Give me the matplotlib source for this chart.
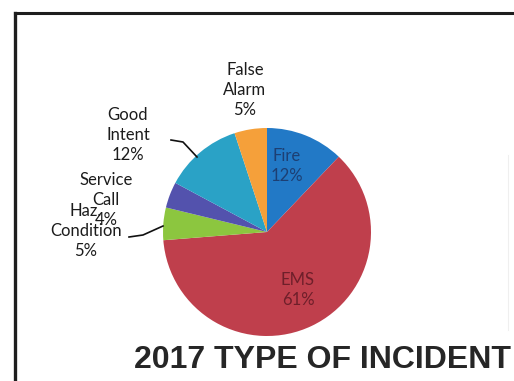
import matplotlib
matplotlib.use("Agg")
import matplotlib.pyplot as plt
from matplotlib.lines import Line2D

# Incident categories for 2017 (percent of all incidents)
categories = ["Fire", "EMS", "Haz.\nCondition", "Service\nCall", "Good\nIntent", "False\nAlarm"]
percents = [12, 61, 5, 4, 12, 5]
colors = ["#2279c6", "#bf3f4c", "#8cc63f", "#5352ad", "#2aa2c6", "#f5a03a"]

W, H = 514, 381
fig = plt.figure(figsize=(W / 100, H / 100), dpi=100)
ax = fig.add_axes([0, 0, 1, 1])

cx, cy, r = 267, H - 232, 104
wedges, _ = ax.pie(percents, colors=colors, startangle=90, counterclock=False,
                   center=(cx, cy), radius=r,
                   wedgeprops=dict(linewidth=0))

ax.set_xlim(0, W)
ax.set_ylim(0, H)
ax.set_aspect("equal")
ax.axis("off")

font = "Lato"
fs = 12
ls = 1.3
labels = [f"{c}\n{p}%" for c, p in zip(categories, percents)]

# inside labels
ax.text(cx + 20, H - 166, labels[0], ha="center", va="center", fontsize=fs,
        family=font, color="#1d3f73", linespacing=ls)
ax.text(cx + 31, H - 290, labels[1], ha="center", va="center", fontsize=fs,
        family=font, color="#6e1f2a", linespacing=ls)

# outside labels
txt = "#1c1c1c"
ax.text(245, H - 90, labels[5], ha="center", va="center", fontsize=fs,
        family=font, color=txt, linespacing=ls)
ax.text(128, H - 135, labels[4], ha="center", va="center", fontsize=fs,
        family=font, color=txt, linespacing=ls)
ax.text(106, H - 200, labels[3], ha="center", va="center", fontsize=fs,
        family=font, color=txt, linespacing=ls)
ax.text(86, H - 231, labels[2], ha="center", va="center", fontsize=fs,
        family=font, color=txt, linespacing=ls)

# leader lines
ax.add_line(Line2D([171, 183, 197], [H - 140, H - 142, H - 157], color="#111111", lw=1.2))
ax.add_line(Line2D([129, 143, 163], [H - 237, H - 235, H - 226], color="#111111", lw=1.2))

# title
ax.text(323, H - 360, "2017 TYPE OF INCIDENT", ha="center", va="center",
        fontsize=23, fontweight="bold", family="Liberation Sans", color="#262626")

# frame
ax.add_line(Line2D([14.5, 14.5], [0, H - 12.5], color="#1e1e1e", lw=2.4, solid_capstyle="projecting"))
ax.add_line(Line2D([14.5, W], [H - 12.5, H - 12.5], color="#1e1e1e", lw=2.2))
ax.add_line(Line2D([508, 508], [H - 330, H - 155], color="#efefef", lw=0.8))

fig.savefig("out.png", dpi=100)
